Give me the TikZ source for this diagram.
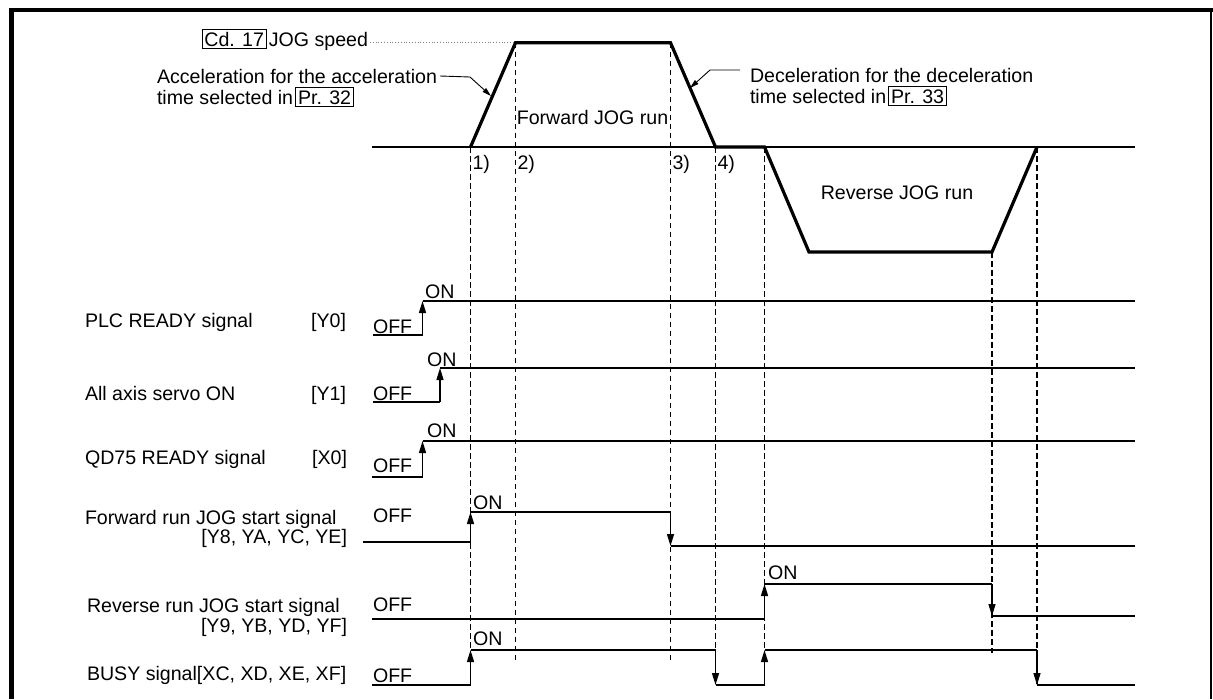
\documentclass[tikz,border=0pt]{standalone}
\usepackage{fontspec}
\setmainfont{Liberation Sans}
\usetikzlibrary{arrows.meta}
\newcommand{\bxx}[1]{{\setlength{\fboxsep}{2pt}\setlength{\fboxrule}{0.9pt}\fbox{#1}}}
\begin{document}
\begin{tikzpicture}[x=1pt,y=-1pt,
  every node/.style={font=\fontsize{19.6}{22}\selectfont, inner sep=0pt, outer sep=0pt},
  guide/.style={dash pattern=on 5.5pt off 3.5pt, line width=1.2pt},
  prof/.style={line width=3.2pt, line join=miter},
  axisline/.style={line width=1.3pt},
  sigarrow/.style={-{Triangle[length=12pt,width=7pt]}, line width=1.4pt},
  lowline/.style={line width=1.4pt},
  hiline/.style={line width=1.6pt},
  thickline/.style={line width=2.6pt},
  leader/.style={line width=0.9pt, -{Triangle[length=9pt,width=5pt]}},
  lbl/.style={anchor=base west},
  lblr/.style={anchor=base east}
]
\useasboundingbox (0,0) rectangle (1213,699);
% frame
\draw[line width=4pt] (9,10.3) -- (1213,10.3);
\draw[line width=5pt] (11,8.3) -- (11,699);
\draw[line width=2.5pt] (1211,10) -- (1211,699);

% key coordinates of the speed profile
\coordinate (p0) at (470.5,147);
\coordinate (p1) at (515.5,42.7);
\coordinate (p2) at (670.5,42.7);
\coordinate (p3) at (715.5,147);
\coordinate (p4) at (764.5,147);
\coordinate (p5) at (809,252);
\coordinate (p6) at (992,252);
\coordinate (p7) at (1037,147);

% dashed guides
\draw[guide] (p0) -- (470.5,685);
\draw[guide] (p1) -- (515.5,661);
\draw[guide] (p2) -- (670.5,660);
\draw[guide] (p3) -- (715.5,685);
\draw[guide] (p4) -- (764.5,685);
\draw[guide] (p6) -- (992,653);
\draw[guide] (p7) -- (1037,685);

% speed axis and profile
\draw[axisline] (372,147) -- (1135,147);
\draw[prof] (p0) -- (p1) -- (p2) -- (p3) -- (p4) -- (p5) -- (p6) -- (p7);

% top texts
\node[lblr] (jog) at (368,46) {\bxx{Cd. 17}\hspace{2pt}JOG speed};
\draw[gray, dotted, line width=0.8pt] ([xshift=2pt]jog.east |- p1) -- (p1);

\node[lbl] (acc1) at (157,83) {Acceleration for the acceleration};
\node[lbl] (acc2) at (157,104) {time selected in\hspace{2pt}\bxx{Pr. 32}};
\coordinate (accTip) at (491,96);
\draw[leader] ([xshift=3pt]acc1.east) -- (470,77) -- (accTip);

\node[lbl] (dec1) at (750,82) {Deceleration for the deceleration};
\node[lbl] (dec2) at (750,103) {time selected in\hspace{2pt}\bxx{Pr. 33}};
\coordinate (decL) at (740,70);
\coordinate (decTip) at (690,88);
\draw[leader] (decL) -- (710,70) -- (decTip);

\node[anchor=base] (fwdrun) at (592.5,124) {Forward JOG run};
\node[anchor=base] (revrun) at (897,199) {Reverse JOG run};

\node[lbl] (t1) at (472.5,169) {1)};
\node[lbl] (t2) at (517.5,169) {2)};
\node[lbl] (t3) at (672.5,169) {3)};
\node[lbl] (t4) at (717.5,169) {4)};

% signal names
\node[lbl] (plc) at (85,327) {PLC READY signal};
\node[lblr] (plcY) at (346,327) {[Y0]};
\node[lbl] (srv) at (85,400) {All axis servo ON};
\node[lblr] (srvY) at (346,400) {[Y1]};
\node[lbl] (qd) at (85,464) {QD75 READY signal};
\node[lblr] (qdX) at (347,464) {[X0]};
\node[lbl] (fw1) at (85,524) {Forward run JOG start signal};
\node[lblr] (fw2) at (347,543) {[Y8, YA, YC, YE]};
\node[lbl] (rv1) at (87,612) {Reverse run JOG start signal};
\node[lblr] (rv2) at (347,632) {[Y9, YB, YD, YF]};
\node[lbl] (busy) at (87,680) {BUSY signal[XC, XD, XE, XF]};

% OFF / ON labels
\node[lbl] (off1) at (373,333) {OFF};
\node[lbl] (off2) at (373,400) {OFF};
\node[lbl] (off3) at (373,472) {OFF};
\node[lbl] (off4) at (373,522) {OFF};
\node[lbl] (off5) at (373,611) {OFF};
\node[lbl] (off6) at (373,682) {OFF};
\node[lbl] (on1) at (425,298) {ON};
\node[lbl] (on2) at (427,366) {ON};
\node[lbl] (on3) at (427,437) {ON};
\node[lbl] (on4) at (473,509) {ON};
\node[lbl] (on5) at (768,579) {ON};
\node[lbl] (on6) at (473,645) {ON};

% PLC READY
\draw[lowline] (373,335) -- (422.5,335);
\draw[sigarrow] (422.5,335) -- (422.5,301);
\draw[thickline] (422.5,301) -- (1135,301);
% All axis servo ON
\draw[lowline] (373,402) -- (440,402);
\draw[sigarrow] (440,402) -- (440,368);
\draw[hiline] (440,368) -- (1135,368);
% QD75 READY
\draw[lowline] (372,477) -- (422.5,477);
\draw[sigarrow] (422.5,477) -- (422.5,441);
\draw[thickline] (422.5,441) -- (1135,441);
% Forward run JOG start
\draw[lowline] (363,542) -- (470.5,542);
\draw[sigarrow] (470.5,542) -- (470.5,512);
\draw[hiline] (470.5,512) -- (670.5,512);
\draw[sigarrow] (670.5,512) -- (670.5,546);
\draw[thickline] (670.5,546) -- (1135,546);
% Reverse run JOG start
\draw[lowline] (372,619) -- (764.5,619);
\draw[sigarrow] (764.5,619) -- (764.5,584);
\draw[hiline] (764.5,584) -- (992,584);
\draw[sigarrow] (992,584) -- (992,616);
\draw[thickline] (992,616) -- (1135,616);
% BUSY
\draw[lowline] (372,685) -- (470.5,685);
\draw[sigarrow] (470.5,685) -- (470.5,650);
\draw[hiline] (470.5,650) -- (715.5,650);
\draw[sigarrow] (715.5,650) -- (715.5,685);
\draw[line width=1.9pt] (715.5,685) -- (764.5,685);
\draw[sigarrow] (764.5,685) -- (764.5,650);
\draw[hiline] (764.5,650) -- (1037,650);
\draw[sigarrow] (1037,650) -- (1037,685);
\draw[thickline] (1037,685) -- (1135,685);
\end{tikzpicture}
\end{document}
